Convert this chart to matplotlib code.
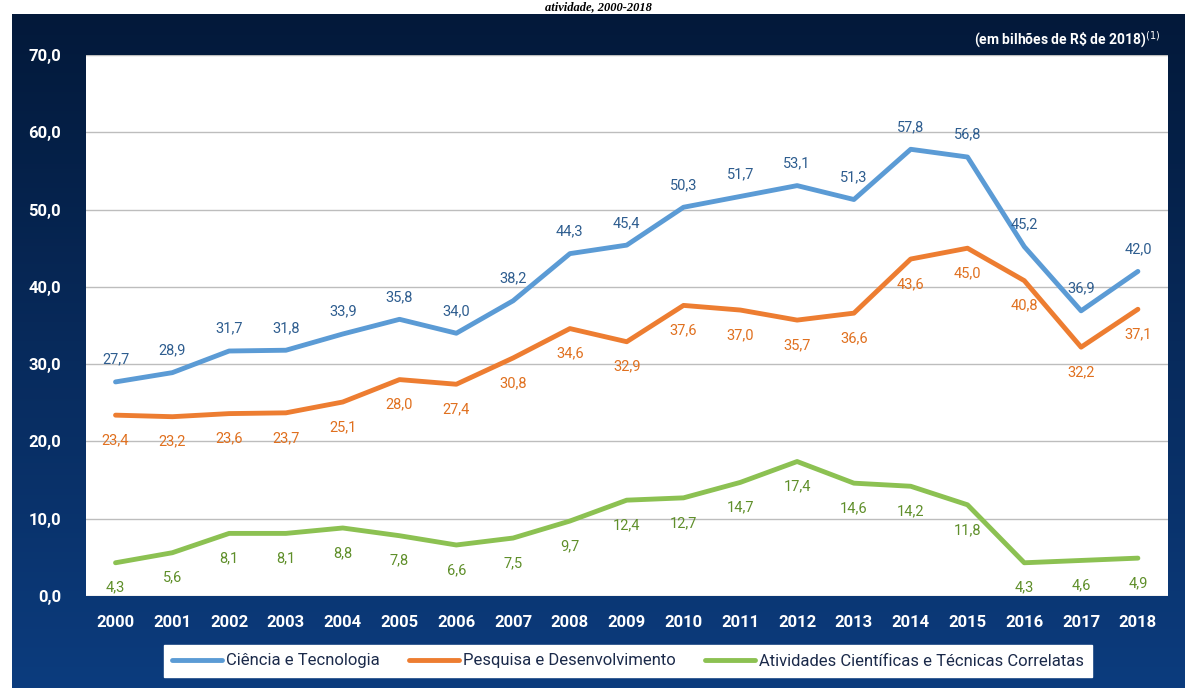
import matplotlib.pyplot as plt
import numpy as np

# data
anos = list(range(2000, 2019))
ciencia_tec = [27.7, 28.9, 31.7, 31.8, 33.9, 35.8, 34.0, 38.2, 44.3, 45.4,
               50.3, 51.7, 53.1, 51.3, 57.8, 56.8, 45.2, 36.9, 42.0]
pesq_desenv = [23.4, 23.2, 23.6, 23.7, 25.1, 28.0, 27.4, 30.8, 34.6, 32.9,
               37.6, 37.0, 35.7, 36.6, 43.6, 45.0, 40.8, 32.2, 37.1]
ativ_correl = [4.3, 5.6, 8.1, 8.1, 8.8, 7.8, 6.6, 7.5, 9.7, 12.4,
               12.7, 14.7, 17.4, 14.6, 14.2, 11.8, 4.3, 4.6, 4.9]
nomes = ['Ciência e Tecnologia', 'Pesquisa e Desenvolvimento',
         'Atividades Científicas e Técnicas Correlatas']

fam = ['Roboto', 'DejaVu Sans']
W, H = 1196, 688
fig = plt.figure(figsize=(W / 100, H / 100), dpi=100)
fig.patch.set_facecolor('white')

# navy frame with vertical gradient
bg = fig.add_axes([12 / W, 0, (1185 - 12) / W, (H - 14) / H])
grad = np.linspace(0, 1, 256)[:, None]
top = np.array([0x03, 0x19, 0x3a]) / 255
bot = np.array([0x0c, 0x3c, 0x7e]) / 255
img = top + (bot - top) * grad[:, :, None]
bg.imshow(img, aspect='auto', extent=[0, 1, 0, 1])
bg.set_axis_off()

# title (only its lower part shows in the reference)
fig.text(0.5, 1 - 1 / H, 'atividade, 2000-2018', ha='center', va='top',
         family=['Liberation Serif', 'DejaVu Serif'], fontsize=9,
         fontweight='bold', style='italic')

x0, x1, y0, y1 = 86, 1168, 55, 596
ax = fig.add_axes([x0 / W, 1 - y1 / H, (x1 - x0) / W, (y1 - y0) / H])
ax.set_facecolor('white')

cores = ['#5b9bd5', '#ed7d31', '#8cc152']
cores_txt = ['#2e5d8f', '#e0701f', '#5f8f2a']
series = [ciencia_tec, pesq_desenv, ativ_correl]
offs = [16, -18, -18]
for s, c, ct, off, nome in zip(series, cores, cores_txt, offs, nomes):
    ax.plot(anos, s, color=c, lw=3.5, solid_capstyle='round', label=nome)
    for a, v in zip(anos, s):
        ax.annotate(f'{v:.1f}'.replace('.', ','), (a, v), xytext=(0, off),
                    textcoords='offset points', ha='center', va='center',
                    color=ct, fontsize=10.5, family=fam)

ax.set_xlim(1999.48, 2018.53)
ax.set_ylim(0, 70)
ax.set_yticks(np.arange(0, 71, 10))
ax.set_yticklabels([f'{v:.1f}'.replace('.', ',') for v in np.arange(0, 71, 10)])
ax.set_xticks(anos)
ax.grid(axis='y', color='#bdbdbd', lw=1)
ax.set_axisbelow(True)
for sp in ax.spines.values():
    sp.set_visible(False)
ax.tick_params(length=0, colors='white', labelsize=12)
ax.tick_params(axis='y', pad=18)
ax.tick_params(axis='x', pad=14)
for t in ax.get_xticklabels() + ax.get_yticklabels():
    t.set_family(fam)
    t.set_fontweight('bold')

fig.text(1160 / W, 1 - 40 / H, '(em bilhões de R\\$ de 2018)$^{(1)}$',
         ha='right', va='center', color='white', fontsize=10,
         fontweight='bold', family=fam)

leg = fig.legend(loc='center', bbox_to_anchor=(628 / W, 1 - 661 / H), ncol=3,
                 frameon=True, fancybox=False, framealpha=1, handlelength=3.0,
                 handletextpad=0.2, columnspacing=1.8, borderpad=0.5,
                 prop={'family': fam, 'size': 12})
leg.get_frame().set_facecolor('white')
leg.get_frame().set_edgecolor('white')
for t in leg.get_texts():
    t.set_color('#1b2a4a')

fig.savefig('out.png', dpi=100)
